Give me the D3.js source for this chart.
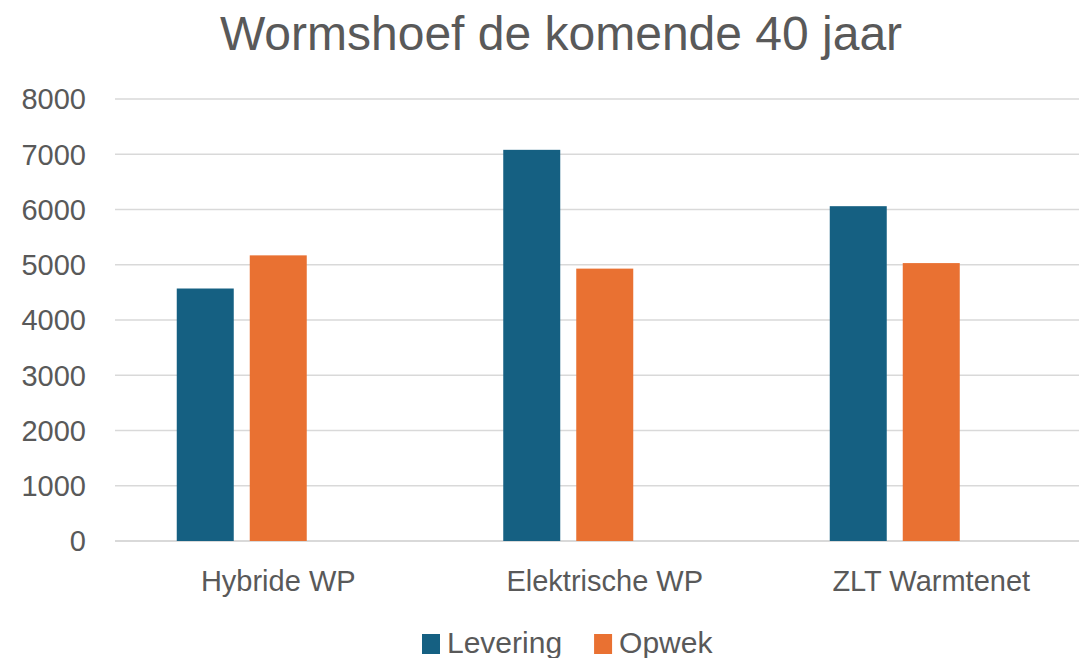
<!DOCTYPE html>
<html>
<head>
<meta charset="utf-8">
<script src="https://cdn.jsdelivr.net/npm/d3@7"></script>
<style>
  html, body { margin: 0; padding: 0; background: #fff; overflow: hidden; }
  svg { display: block; font-family: "Liberation Sans", Arial, sans-serif; }
</style>
</head>
<body>
<script>
// chart data
const categories = ["Hybride WP", "Elektrische WP", "ZLT Warmtenet"];
const seriesNames = ["Levering", "Opwek"];
const levering = [4570, 7080, 6060];
const opwek = [5170, 4930, 5030];
const yTicks = [0, 1000, 2000, 3000, 4000, 5000, 6000, 7000, 8000];
const colors = ["#156082", "#E97132"];

const width = 1079;
const height = 658;
const margin = {top: 99, left: 115};
const plotW = 979.5;
const plotH = 442;

const svg = d3.select("body").append("svg").attr("width", width).attr("height", height);

svg.append("text")
    .attr("x", 561).attr("y", 50)
    .attr("text-anchor", "middle")
    .attr("fill", "#595959")
    .style("font-size", "48px")
    .text("Wormshoef de komende 40 jaar");

const g = svg.append("g").attr("transform", `translate(${margin.left},${margin.top})`);

const y = d3.scaleLinear().domain([0, 8000]).range([plotH, 0]);
const x0 = d3.scaleBand().domain(categories).range([0, plotW]);
// the source chart keeps an empty third slot in every cluster
const slots = [...seriesNames, ""];
const gap = (x0.bandwidth() - 203) / 2;
const x1 = d3.scaleBand().domain(slots).range([gap, x0.bandwidth() - gap]).paddingInner(16 / 73);

// gridlines
g.append("g").selectAll("line").data(yTicks).enter().append("line")
    .attr("x1", 0).attr("x2", plotW)
    .attr("y1", d => y(d)).attr("y2", d => y(d))
    .attr("stroke", "#d9d9d9")
    .attr("stroke-width", d => d === 0 ? 2 : 1.5);

// y labels
g.append("g").selectAll("text").data(yTicks).enter().append("text")
    .attr("x", -29).attr("y", d => y(d))
    .attr("dy", "0.36em")
    .attr("text-anchor", "end")
    .attr("fill", "#595959")
    .style("font-size", "29px")
    .text(d => d);

const rows = categories.map((c, i) => ({cat: c, values: [levering[i], opwek[i]]}));

const groups = g.selectAll(".cat").data(rows).enter().append("g")
    .attr("class", "cat")
    .attr("transform", d => `translate(${x0(d.cat)},0)`);

groups.selectAll("rect")
    .data(d => d.values.map((v, j) => ({name: seriesNames[j], value: v, color: colors[j]})))
    .enter().append("rect")
    .attr("x", d => x1(d.name))
    .attr("width", x1.bandwidth())
    .attr("y", d => y(d.value))
    .attr("height", d => plotH - y(d.value))
    .attr("fill", d => d.color);

// category labels
g.append("g").selectAll("text").data(categories).enter().append("text")
    .attr("x", d => x0(d) + x0.bandwidth() / 2)
    .attr("y", plotH + 50)
    .attr("text-anchor", "middle")
    .attr("fill", "#595959")
    .style("font-size", "29px")
    .text(d => d);

// legend
const legend = svg.append("g").attr("transform", "translate(422,642)");
let lx = 0;
seriesNames.forEach((name, i) => {
    const item = legend.append("g").attr("transform", `translate(${lx},0)`);
    item.append("rect").attr("x", 0).attr("y", -8).attr("width", 18).attr("height", 20).attr("fill", colors[i]);
    const t = item.append("text").attr("x", 25).attr("y", 0).attr("dy", "0.36em")
        .attr("fill", "#595959").style("font-size", "30px").text(name);
    lx += 25 + t.node().getComputedTextLength() + 32;
});
</script>
</body>
</html>
